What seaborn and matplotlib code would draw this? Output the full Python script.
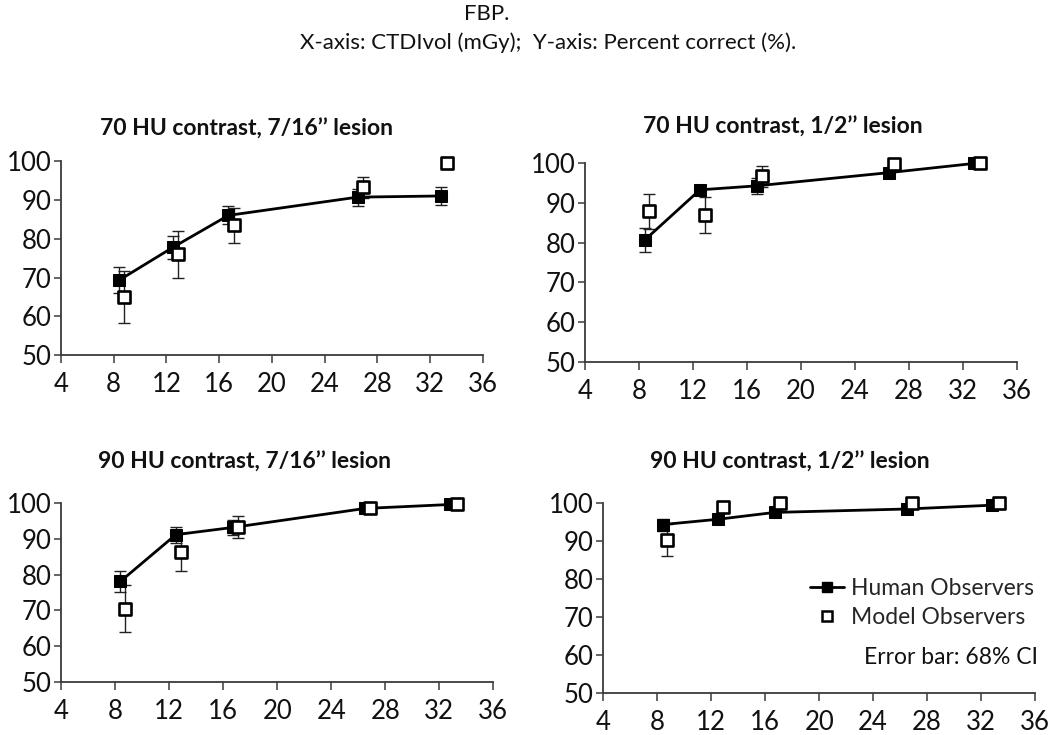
import matplotlib
matplotlib.use("Agg")
import matplotlib.pyplot as plt
import seaborn as sns
import numpy as np
import pandas as pd
from matplotlib.lines import Line2D

sns.set_theme(style="white")
plt.rcParams['font.family'] = ['Lato', 'DejaVu Sans']

# ---- data ----
human_x = [8.4, 12.5, 16.7, 26.5, 32.8]
model_x = [8.75, 12.9, 17.1, 26.9, 33.3]

titles = ["70 HU contrast, 7/16\u2019\u2019 lesion", "70 HU contrast, 1/2\u2019\u2019 lesion",
          "90 HU contrast, 7/16\u2019\u2019 lesion", "90 HU contrast, 1/2\u2019\u2019 lesion"]

human_70_716 = [69.3, 77.8, 86.0, 90.7, 91.0]
human_70_716_err = [3.3, 3.0, 2.3, 2.2, 2.3]
model_70_716 = [65.0, 76.0, 83.5, 93.2, 99.4]
model_70_716_err = [6.6, 6.0, 4.5, 2.7, 0.5]

human_70_12 = [80.6, 93.2, 94.2, 97.5, 99.8]
human_70_12_err = [3.0, 1.3, 2.0, 0.8, 0.5]
model_70_12 = [87.8, 86.8, 96.6, 99.6, 100.0]
model_70_12_err = [4.3, 4.5, 2.6, 0.5, 0.3]

human_90_716 = [78.1, 91.1, 93.1, 98.4, 99.5]
human_90_716_err = [3.0, 2.2, 2.0, 0.6, 0.4]
model_90_716 = [70.5, 86.3, 93.3, 98.5, 99.5]
model_90_716_err = [6.5, 5.2, 3.0, 0.5, 0.4]

human_90_12 = [94.4, 95.8, 97.6, 98.5, 99.5]
human_90_12_err = [1.6, 0.7, 1.2, 0.6, 0.4]
model_90_12 = [90.3, 99.1, 100.0, 100.0, 100.0]
model_90_12_err = [4.2, 0.4, 0.3, 0.3, 0.3]

x_ticks = [4, 8, 12, 16, 20, 24, 28, 32, 36]
y_ticks = [50, 60, 70, 80, 90, 100]

panels = [
    (human_70_716, human_70_716_err, model_70_716, model_70_716_err),
    (human_70_12, human_70_12_err, model_70_12, model_70_12_err),
    (human_90_716, human_90_716_err, model_90_716, model_90_716_err),
    (human_90_12, human_90_12_err, model_90_12, model_90_12_err),
]

W, H = 1050, 735
fig = plt.figure(figsize=(W / 100, H / 100), dpi=100)

def px_rect(l, r, t, b):
    return [l / W, 1 - b / H, (r - l) / W, (b - t) / H]

rects = [px_rect(61, 482.7, 161, 355.3),
         px_rect(585.3, 1016.7, 162.7, 362.3),
         px_rect(61, 493.3, 502.7, 682.3),
         px_rect(603.3, 1035, 503.3, 693.3)]
title_pos = [(246, 129), (783, 127), (244, 462), (790, 462)]

spine_c = "#3a3a3a"
for i, (rect, (hy, he, my, me)) in enumerate(zip(rects, panels)):
    ax = fig.add_axes(rect)
    ax.errorbar(human_x, hy, yerr=he, fmt='none', ecolor='#222222', elinewidth=1.0,
                capsize=4, capthick=1.0, zorder=2, clip_on=False)
    ax.errorbar(model_x, my, yerr=me, fmt='none', ecolor='#222222', elinewidth=1.0,
                capsize=4, capthick=1.0, zorder=2, clip_on=False)
    dfh = pd.DataFrame({"x": human_x, "y": hy})
    dfm = pd.DataFrame({"x": model_x, "y": my})
    sns.lineplot(data=dfh, x="x", y="y", ax=ax, color="black", linewidth=2.0,
                 marker="s", markersize=8, markeredgecolor="black",
                 markerfacecolor="black", zorder=4, clip_on=False)
    sns.scatterplot(data=dfm, x="x", y="y", ax=ax, marker="s", s=80,
                    facecolor="white", edgecolor="black", linewidth=1.9,
                    zorder=5, clip_on=False)
    ax.set_xlim(4, 36)
    ax.set_ylim(50, 100)
    ax.set_xticks(x_ticks)
    ax.set_yticks(y_ticks)
    ax.set_xlabel("")
    ax.set_ylabel("")
    for s in ["top", "right"]:
        ax.spines[s].set_visible(False)
    for s in ["left", "bottom"]:
        ax.spines[s].set_color(spine_c)
        ax.spines[s].set_linewidth(1.3)
    ax.tick_params(axis='x', direction='out', length=6, width=1.1, color=spine_c,
                   labelsize=18.5, pad=6, bottom=True, labelcolor='#111111')
    ax.tick_params(axis='y', direction='out', length=5, width=1.1, color=spine_c,
                   labelsize=18.5, pad=2, left=True, labelcolor='#111111')
    ax.grid(False)
    tx, ty = title_pos[i]
    fig.text(tx / W, 1 - ty / H, titles[i], ha='center', va='center',
             fontsize=16.5, fontweight='bold', color='#111111')

# header
fig.text(487 / W, 1 - 14 / H, "FBP.", ha='center', va='center', fontsize=16, color='#111111')
fig.text(548 / W, 1 - 43 / H, "X-axis: CTDIvol (mGy);  Y-axis: Percent correct (%).",
         ha='center', va='center', fontsize=16, color='#111111')

# legend
handles = [Line2D([], [], color='black', linewidth=2.0, marker='s', markersize=7,
                  markerfacecolor='black'),
           Line2D([], [], color='none', marker='s', markersize=7,
                  markerfacecolor='white', markeredgecolor='black', markeredgewidth=1.8)]
fig.legend(handles, ["Human Observers", "Model Observers"], loc='center right',
           bbox_to_anchor=(1050 / W, 1 - 603 / H), frameon=False, fontsize=16.5,
           handlelength=1.5, handletextpad=0.3, labelspacing=0.35, borderpad=0.2)
fig.text(1038 / W, 1 - 657 / H, "Error bar: 68% CI", ha='right', va='center',
         fontsize=16.5, color='#111111')

fig.savefig("out.png", dpi=100)
